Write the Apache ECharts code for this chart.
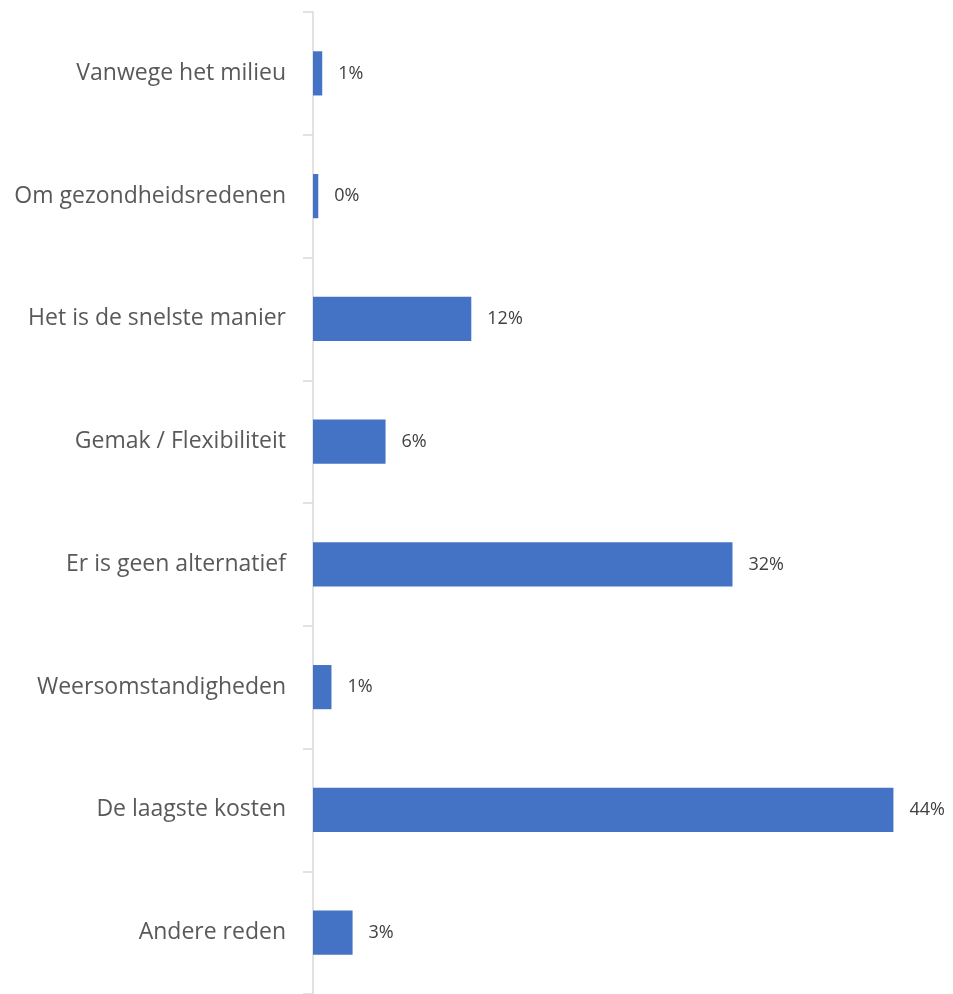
<!DOCTYPE html>
<html>
<head>
    <meta charset="utf-8">
    <title></title>
    <script src="https://cdn.jsdelivr.net/npm/echarts@6/dist/echarts.min.js"></script>
    <style>
        html, body { margin: 0; padding: 0; background: #fff; }
    </style>
</head>
<body>
    <div id="container" style="width: 953px;height: 994px;"></div>
</body>
<script type="text/javascript">
    var categories = ['Vanwege het milieu', 'Om gezondheidsredenen', 'Het is de snelste manier', 'Gemak / Flexibiliteit',
        'Er is geen alternatief', 'Weersomstandigheden', 'De laagste kosten', 'Andere reden'];
    var values = [0.7, 0.4, 12.0, 5.5, 31.8, 1.4, 44.0, 3.0];

    var myChart = echarts.init(document.getElementById('container'));
    var option = {
        animation: false,
        grid: {
            left: 313,
            right: 20,
            top: 12,
            bottom: -2,
            containLabel: false
        },
        xAxis: {
            type: 'value',
            min: 0,
            max: 47,
            show: false
        },
        yAxis: {
            type: 'category',
            inverse: true,
            data: categories,
            axisLine: { lineStyle: { color: '#d9d9d9', width: 1.5 } },
            axisTick: { show: true, length: 10, lineStyle: { color: '#d9d9d9', width: 1.5 } },
            axisLabel: {
                margin: 27,
                color: '#595959',
                fontSize: 23,
                fontFamily: 'Open Sans'
            }
        },
        series: [{
            type: 'bar',
            data: values,
            barCategoryGap: '64%',
            itemStyle: { color: '#4472C4' },
            label: {
                show: true,
                position: 'right',
                distance: 16,
                color: '#404040',
                fontSize: 18,
                fontFamily: 'Open Sans',
                formatter: function (p) {
                    return Math.round(p.value) + '%';
                }
            }
        }]
    };
    myChart.setOption(option);
</script>
</html>
